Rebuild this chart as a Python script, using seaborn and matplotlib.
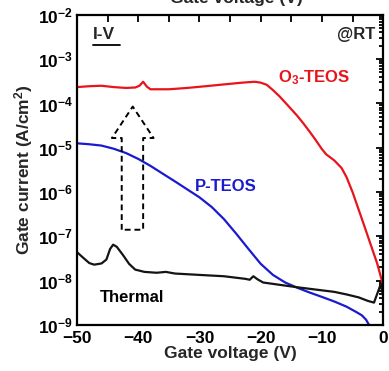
import numpy as np
import pandas as pd
import seaborn as sns
import matplotlib
matplotlib.use("Agg")
import matplotlib.pyplot as plt
from matplotlib.ticker import FixedLocator, FixedFormatter, MultipleLocator, LogLocator, NullFormatter

# O3-TEOS oxide
v_o3 = [-50, -48, -46, -44, -42, -40.5, -39.8, -39.2, -38.6, -38, -35, -32, -29, -26, -23,
        -21, -20, -19, -18, -17, -16, -15, -14, -13, -12, -11, -10, -9.3, -8, -6.8, -6,
        -5, -4, -3, -2, -1, 0]
i_o3 = [2.34e-4, 2.45e-4, 2.51e-4, 2.34e-4, 2.24e-4, 2.29e-4, 2.51e-4, 3.09e-4, 2.40e-4,
        2.09e-4, 2.09e-4, 2.24e-4, 2.45e-4, 2.69e-4, 2.95e-4, 3.09e-4, 2.95e-4, 2.63e-4,
        2.0e-4, 1.48e-4, 1.05e-4, 7.4e-5, 5.2e-5, 3.5e-5, 2.3e-5, 1.48e-5, 9.3e-6, 7.1e-6,
        5.2e-6, 3.5e-6, 2.2e-6, 1.0e-6, 4.0e-7, 1.6e-7, 6.3e-8, 2.5e-8, 7.9e-9]

# P-TEOS oxide
v_p = [-50, -48, -46, -44, -42, -40, -38, -36, -34, -32, -30, -28, -26, -24, -22, -20,
       -18, -16, -14, -12, -10, -8, -6, -4.5, -3.5, -2.8, -2.3]
i_p = [1.26e-5, 1.20e-5, 1.12e-5, 9.5e-6, 7.6e-6, 5.6e-6, 3.9e-6, 2.6e-6, 1.74e-6, 1.15e-6,
       7.6e-7, 4.6e-7, 2.45e-7, 1.15e-7, 5.2e-8, 2.4e-8, 1.35e-8, 9.1e-9, 6.9e-9, 5.4e-9,
       4.3e-9, 3.4e-9, 2.6e-9, 2.0e-9, 1.66e-9, 1.32e-9, 1.0e-9]

# Thermal oxide
v_th = [-50, -49, -48, -47.2, -46, -45.2, -44.6, -44.1, -43.5, -42.5, -41.5, -40.5, -39,
        -37, -35.5, -34, -30, -26, -22.5, -21.8, -21.2, -20.5, -19.6, -17, -14, -11, -8,
        -6, -4, -2.5, -1.5, -0.4, 0]
i_th = [4.4e-8, 3.3e-8, 2.5e-8, 2.3e-8, 2.45e-8, 3.0e-8, 5.2e-8, 6.5e-8, 5.8e-8, 3.8e-8,
        2.4e-8, 1.78e-8, 1.58e-8, 1.51e-8, 1.58e-8, 1.45e-8, 1.35e-8, 1.26e-8, 1.10e-8,
        1.05e-8, 1.26e-8, 1.07e-8, 9.1e-9, 8.1e-9, 7.1e-9, 6.3e-9, 5.6e-9, 4.9e-9, 4.2e-9,
        3.5e-9, 3.2e-9, 8.3e-9, 4.5e-9]

y_ticks = [1e-9, 1e-8, 1e-7, 1e-6, 1e-5, 1e-4, 1e-3, 1e-2]
y_tick_labels = [r"$\mathbf{10^{-9}}$", r"$\mathbf{10^{-8}}$", r"$\mathbf{10^{-7}}$",
                 r"$\mathbf{10^{-6}}$", r"$\mathbf{10^{-5}}$", r"$\mathbf{10^{-4}}$",
                 r"$\mathbf{10^{-3}}$", r"$\mathbf{10^{-2}}$"]
x_ticks = [-50, -40, -30, -20, -10, 0]

sns.set_theme(style="white")
plt.rcParams["font.family"] = ["Liberation Sans", "DejaVu Sans"]
plt.rcParams["font.weight"] = "bold"
plt.rcParams["mathtext.fontset"] = "custom"
plt.rcParams["mathtext.rm"] = "Liberation Sans:bold"
plt.rcParams["mathtext.bf"] = "Liberation Sans:bold"
plt.rcParams["mathtext.it"] = "Liberation Sans:bold"

df = pd.concat([
    pd.DataFrame({"V": v_o3, "I": i_o3, "film": "O3-TEOS"}),
    pd.DataFrame({"V": v_p, "I": i_p, "film": "P-TEOS"}),
    pd.DataFrame({"V": v_th, "I": i_th, "film": "Thermal"}),
])

fig = plt.figure(figsize=(3.89, 3.71), dpi=100)
ax = fig.add_axes([0.198, 0.124, 0.787, 0.836])

palette = {"O3-TEOS": "#e8141c", "P-TEOS": "#1a1ad0", "Thermal": "#141414"}
sns.lineplot(data=df, x="V", y="I", hue="film", palette=palette, sort=False,
             estimator=None, linewidth=1.6, legend=False, ax=ax)

ax.set_yscale("log")
ax.set_xlim(-50, 0)
ax.set_ylim(1e-9, 1e-2)

ax.yaxis.set_major_locator(FixedLocator(y_ticks))
ax.yaxis.set_major_formatter(FixedFormatter(y_tick_labels))
ax.yaxis.set_minor_locator(LogLocator(base=10, subs=np.arange(2, 10), numticks=20))
ax.yaxis.set_minor_formatter(NullFormatter())
ax.xaxis.set_major_locator(FixedLocator(x_ticks))
ax.xaxis.set_minor_locator(MultipleLocator(5))

ax.tick_params(which="both", direction="in", top=True, right=True, width=1.3,
               labelsize=12.5, colors="black")
ax.tick_params(which="major", length=5)
ax.tick_params(which="minor", length=3)
ax.tick_params(axis="x", which="minor", length=5)
for lab in ax.get_xticklabels() + ax.get_yticklabels():
    lab.set_fontweight("bold")
ax.tick_params(axis="x", pad=4)
ax.tick_params(axis="y", pad=3)

for s in ax.spines.values():
    s.set_color("black")
    s.set_linewidth(1.6)

ax.set_xlabel("Gate voltage (V)", fontsize=12.5, fontweight="bold", labelpad=0)
ax.set_ylabel("Gate current (A/cm$^\\mathbf{2}$)", fontsize=12.5, fontweight="bold", labelpad=2)

# duplicate top label partly outside the canvas
fig.text(0.607, 0.992, "Gate voltage (V)", fontsize=12.5, fontweight="bold",
         ha="center", va="baseline")

# series annotations
ax.text(-47.4, 10**-2.45, "I-V", fontsize=12.5, fontweight="bold", va="center", ha="left")
ax.plot([-47.4, -43.0], [10**-2.68, 10**-2.68], color="black", lw=1.3)
ax.text(-1.3, 10**-2.45, "@RT", fontsize=12, fontweight="bold", va="center", ha="right")
ax.text(-17.2, 10**-3.42, r"O$_\mathbf{3}$-TEOS", fontsize=12, fontweight="bold",
        color="#e8141c", va="center", ha="left")
ax.text(-30.7, 10**-5.88, "P-TEOS", fontsize=12, fontweight="bold",
        color="#1a1ad0", va="center", ha="left")
ax.text(-46.2, 10**-8.39, "Thermal", fontsize=12, fontweight="bold",
        color="black", va="center", ha="left")

# dashed upward arrow
arrow_v = [-42.7, -42.7, -44.3, -40.9, -37.5, -39.2, -39.2, -42.7]
arrow_log = [-6.85, -4.78, -4.78, -4.07, -4.78, -4.78, -6.85, -6.85]
ax.plot(arrow_v, [10**a for a in arrow_log], color="black", lw=1.4, ls=(0, (3, 2)))

fig.savefig("out.png", dpi=100)
